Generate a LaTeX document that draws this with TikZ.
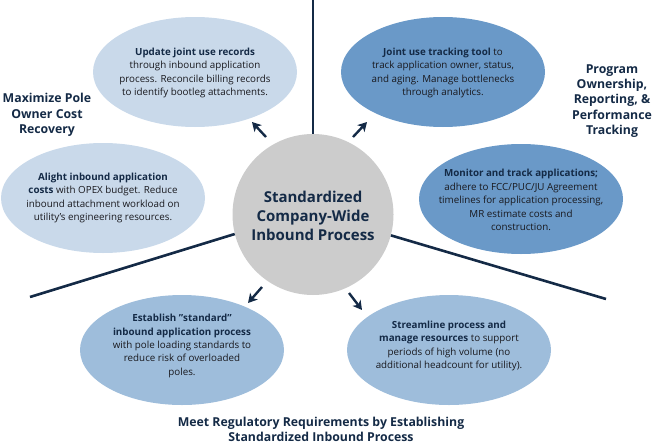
\documentclass[tikz,border=0pt]{standalone}
\usepackage{fontspec}
\setmainfont{Open Sans}
\usetikzlibrary{arrows.meta,shapes.geometric}
\definecolor{navy}{RGB}{20,42,70}
\definecolor{txtc}{RGB}{25,25,30}
\definecolor{lightb}{RGB}{201,217,234}
\definecolor{midb}{RGB}{106,153,200}
\definecolor{botb}{RGB}{158,189,219}
\definecolor{greyc}{RGB}{204,204,204}
\begin{document}
\begin{tikzpicture}[x=1pt,y=-1pt,
  bub/.style={draw=none,shape=ellipse,minimum width=204pt,minimum height=110pt,inner sep=0pt},
  txt/.style={align=center,font=\fontsize{9.8}{13.4}\selectfont,text=txtc,inner sep=0pt},
  ttl/.style={align=center,font=\fontsize{12.3}{15.2}\selectfont\bfseries,text=navy,inner sep=0pt},
  sep/.style={draw=navy,line width=2.6pt},
  arr/.style={draw=navy,line width=2.4pt,-{Stealth[length=9pt,width=10pt,inset=2.5pt]}}]
\useasboundingbox (0,0) rectangle (655,447);
\newcommand{\hb}[1]{\textbf{\color{navy}#1}}
% separator lines
\coordinate (v1) at (313,0);
\coordinate (l1) at (30,297);
\coordinate (r1) at (606,299);
% central circle
\node[circle,fill=greyc,minimum size=161pt,inner sep=0pt] (c) at (313,214.5) {};
\draw[sep] (v1) -- (c.north);
\draw[sep] (l1) -- (c.194);
\draw[sep] (r1) -- (c.-15);
\node[ttl,font=\fontsize{15}{19.2}\selectfont\bfseries] (ct) at (313,216) {Standardized\\Company-Wide\\Inbound Process};
% ellipses
\node[bub,fill=lightb] (tl) at (195,72) {};
\node[txt] (tlt) at (195,73) {\hb{Update joint use records}\\through inbound application\\process. Reconcile billing records\\to identify bootleg attachments.};
\node[bub,fill=lightb] (ml) at (103,198) {};
\node[txt] (mlt) at (103,198) {\hb{Alight inbound application}\\\hb{costs} with OPEX budget. Reduce\\inbound attachment workload on\\utility’s engineering resources.};
\node[bub,fill=midb] (tr) at (443,72) {};
\node[txt] (trt) at (443,73) {\hb{Joint use tracking tool} to\\track application owner, status,\\and aging. Manage bottlenecks\\through analytics.};
\node[bub,fill=midb] (mr) at (521,199) {};
\node[txt] (mrt) at (521,200) {\hb{Monitor and track applications;}\\adhere to FCC/PUC/JU Agreement\\timelines for application processing,\\MR estimate costs and\\construction.};
\node[bub,fill=botb] (bl) at (182,350) {};
\node[txt] (blt) at (182,346) {\hb{Establish "standard"}\\\hb{inbound application process}\\with pole loading standards to\\reduce risk of overloaded\\poles.};
\node[bub,fill=botb] (br) at (449,350) {};
\node[txt] (brt) at (449,346) {\hb{Streamline process and}\\\hb{manage resources} to support\\periods of high volume (no\\additional headcount for utility).};
% arrows
\coordinate (a1s) at (266,137); \coordinate (a1e) at (252,122);
\coordinate (a2s) at (353,137); \coordinate (a2e) at (367,122);
\coordinate (a3s) at (262,287); \coordinate (a3e) at (248,303);
\coordinate (a4s) at (349,293); \coordinate (a4e) at (362,310);
\draw[arr] (a1s) -- (a1e);
\draw[arr] (a2s) -- (a2e);
\draw[arr] (a3s) -- (a3e);
\draw[arr] (a4s) -- (a4e);
% labels
\node[ttl] (lab1) at (47,115) {Maximize Pole\\Owner Cost\\Recovery};
\node[ttl] (lab2) at (612,101) {Program\\Ownership,\\Reporting, \&\\Performance\\Tracking};
\node[ttl] (lab3) at (321,429) {Meet Regulatory Requirements by Establishing\\Standardized Inbound Process};
\end{tikzpicture}
\end{document}
